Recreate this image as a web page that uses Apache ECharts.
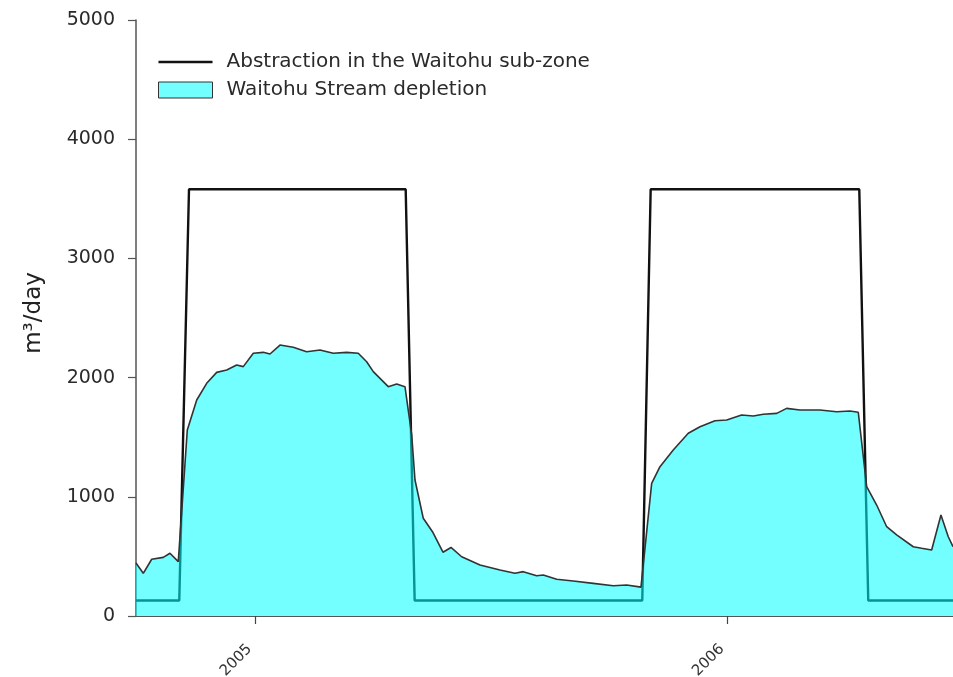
<!DOCTYPE html>
<html>
<head>
<meta charset="utf-8">
<script src="https://cdn.jsdelivr.net/npm/echarts@6/dist/echarts.min.js"></script>
<style>
html,body{margin:0;padding:0;background:#fff;}
#chart{width:953px;height:677px;}
</style>
</head>
<body>
<div id="chart"></div>
<script>
// Time in decimal years
const depletionYears = [
  2004.7475, 2004.7629, 2004.7807, 2004.8052, 2004.8194, 2004.8370,
  2004.8561, 2004.8760, 2004.8971, 2004.9183, 2004.9395, 2004.9606, 2004.9746, 2004.9958,
  2005.0169, 2005.0311, 2005.0523, 2005.0804, 2005.1088, 2005.1370, 2005.1651, 2005.1935,
  2005.2180, 2005.2358, 2005.2498, 2005.2815, 2005.2993, 2005.3169,
  2005.3311, 2005.3381, 2005.3556, 2005.3762, 2005.3973, 2005.4143, 2005.4369, 2005.4757,
  2005.5180, 2005.5497, 2005.5673, 2005.5957, 2005.6097, 2005.6380, 2005.6732, 2005.7155,
  2005.7578, 2005.7862, 2005.8165,
  2005.8391, 2005.8567, 2005.8848, 2005.9166, 2005.9414, 2005.9731, 2005.9979,
  2006.0296, 2006.0542, 2006.0754, 2006.1037, 2006.1249, 2006.1530, 2006.1954, 2006.2307,
  2006.2589, 2006.2765,
  2006.2943, 2006.3154, 2006.3366, 2006.3577, 2006.3929, 2006.4107, 2006.4318, 2006.4515,
  2006.4670, 2006.4770
];
const depletionValues = [
  445, 358, 476, 492, 526, 456,
  1560, 1812, 1952, 2044, 2064, 2106, 2092, 2204,
  2212, 2198, 2273, 2254, 2217, 2232, 2204, 2212,
  2204, 2133, 2050, 1924, 1946, 1924,
  1520, 1141, 820, 700, 535, 575, 497, 428,
  386, 358, 372, 338, 344, 308, 294, 274,
  254, 260, 242,
  1113, 1253, 1393, 1533, 1588, 1638, 1644,
  1686, 1678, 1692, 1700, 1742, 1728, 1728, 1714,
  1720, 1709,
  1085, 931, 749, 680, 581, 568, 554, 847,
  665, 581
];
const abstractionYears = [
  2004.7475, 2004.8391, 2004.8597, 2005.3184, 2005.3374,
  2005.8192, 2005.8370, 2006.2786, 2006.2976, 2006.4770
];
const abstractionValues = [
  130, 130, 3580, 3580, 130,
  130, 3580, 3580, 130, 130
];
const xTickValues = [2005, 2006];
const yTickLabels = [0, 1000, 2000, 3000, 4000, 5000];
const seriesNames = ['Abstraction in the Waitohu sub-zone', 'Waitohu Stream depletion'];

const X_MIN = 2004.7475, X_MAX = 2006.477;
const FONT = '"DejaVu Sans", "Liberation Sans", Arial, sans-serif';

const chart = echarts.init(document.getElementById('chart'), null, {renderer: 'canvas'});
chart.setOption({
  animation: false,
  backgroundColor: '#fff',
  textStyle: {fontFamily: FONT},
  grid: {left: 136, right: 0, top: 20, bottom: 61, containLabel: false, outerBoundsMode: 'none'},
  legend: {
    orient: 'vertical',
    left: 158,
    top: 52,
    padding: 0,
    itemWidth: 54,
    itemHeight: 16,
    itemGap: 8,
    selectedMode: false,
    textStyle: {fontSize: 20, color: '#2a2a2a', fontFamily: FONT, lineHeight: 16, padding: [0, 0, 0, 9]},
    data: [
      {name: seriesNames[0], icon: 'path://M0,0 L54,0 L54,2.4 L0,2.4 Z',
       itemStyle: {color: '#111', borderWidth: 0}},
      {name: seriesNames[1], icon: 'rect',
       itemStyle: {color: '#73ffff', borderColor: '#333', borderWidth: 1}}
    ]
  },
  xAxis: [{
    type: 'value',
    min: X_MIN, max: X_MAX,
    axisLine: {show: true, onZero: false, lineStyle: {color: '#444', width: 1.2}},
    axisTick: {show: true, length: 8, customValues: xTickValues, lineStyle: {color: '#444', width: 1.2}},
    axisLabel: {
      customValues: xTickValues, rotate: 45, margin: 25,
      fontSize: 15, color: '#333', fontFamily: FONT, padding: [0, 8, 0, 0],
      formatter: v => String(Math.round(v))
    },
    splitLine: {show: false}
  }, {
    type: 'value', position: 'top',
    min: X_MIN, max: X_MAX,
    axisLine: {show: true, lineStyle: {color: '#555', width: 1.2}},
    axisTick: {show: false}, axisLabel: {show: false}, splitLine: {show: false}
  }],
  yAxis: {
    type: 'value',
    min: 0, max: 5000, interval: 1000,
    name: 'm³/day',
    nameLocation: 'middle',
    nameGap: 90,
    nameTextStyle: {fontSize: 23, color: '#222', fontFamily: FONT, padding: [0, 0, 0, 10]},
    axisLine: {show: true, lineStyle: {color: '#555', width: 1.5}},
    axisTick: {show: true, inside: false, length: 8, lineStyle: {color: '#555', width: 1.2}},
    axisLabel: {
      fontSize: 19, color: '#2a2a2a', margin: 21, fontFamily: FONT,
      customValues: yTickLabels,
      formatter: v => String(v)
    },
    splitLine: {show: false}
  },
  series: [{
    name: seriesNames[0],
    type: 'line',
    z: 2,
    symbol: 'none',
    data: abstractionYears.map((x, i) => [x, abstractionValues[i]]),
    lineStyle: {color: '#111', width: 2.4},
    itemStyle: {color: '#111'}
  }, {
    name: seriesNames[1],
    type: 'line',
    z: 3,
    symbol: 'none',
    data: depletionYears.map((x, i) => [x, depletionValues[i]]),
    lineStyle: {color: '#333', width: 1.6},
    itemStyle: {color: '#73ffff'},
    areaStyle: {color: 'rgba(0,255,255,0.55)', opacity: 1, origin: 'start'}
  }]
});
</script>
</body>
</html>
